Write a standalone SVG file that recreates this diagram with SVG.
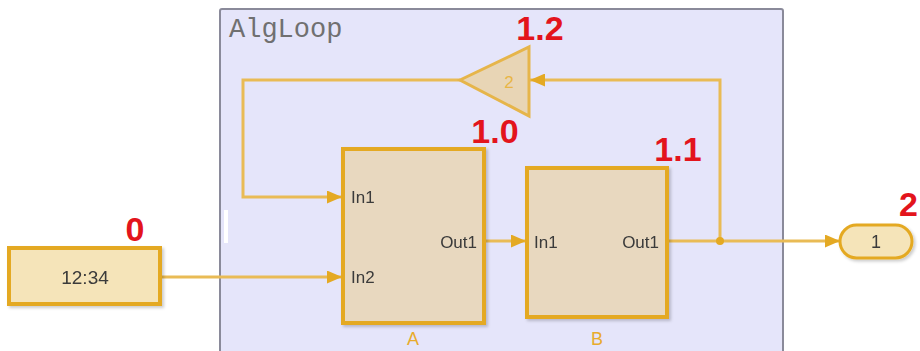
<svg xmlns="http://www.w3.org/2000/svg" width="920" height="351" viewBox="0 0 920 351">
<defs>
<style>
.blk{fill:#e8d8bf;stroke:#e4a923;stroke-width:4}
.wire{fill:none;stroke:#e9bb55;stroke-width:3}
.port{font-family:"Liberation Sans",Arial,sans-serif;font-size:17px;fill:#3a3a3a}
.name{font-family:"Liberation Sans",Arial,sans-serif;font-size:18px;fill:#e8ab2c}
.red{font-family:"Liberation Sans",Arial,sans-serif;font-size:34px;font-weight:bold;fill:#e3141c}
</style>
<marker id="arr" markerWidth="15" markerHeight="13" refX="15" refY="6.5" orient="auto" markerUnits="userSpaceOnUse" viewBox="0 0 15 13">
<path d="M0,0 L15,6.5 L0,13 Z" fill="#e4a923"/>
</marker>
<filter id="sh" x="-10%" y="-10%" width="130%" height="130%">
<feDropShadow dx="2" dy="2" stdDeviation="1.5" flood-color="#000" flood-opacity="0.2"/>
</filter>
</defs>
<rect width="920" height="351" fill="#ffffff"/>
<g id="AlgLoop">
<rect x="220" y="9" width="563" height="360" rx="2" fill="#e5e5fa" stroke="#8a8a9a" stroke-width="2"/>
<text x="229" y="37" font-family="'Liberation Mono','Courier New',monospace" font-size="27" fill="#707070">AlgLoop</text>
<rect x="224" y="210" width="4" height="33" fill="#ffffff"/>
</g>
<g id="connectors">
<path class="wire" d="M160,277 H342" marker-end="url(#arr)"/>
<path class="wire" d="M460,80 H243 V197 H342" marker-end="url(#arr)"/>
<path class="wire" d="M485,241 H526" marker-end="url(#arr)"/>
<path class="wire" d="M667,241 H840" marker-end="url(#arr)"/>
<path class="wire" d="M720,241 V80 H530" marker-end="url(#arr)"/>
<circle cx="720" cy="241" r="4" fill="#e4a923"/>
</g>
<g id="clock" filter="url(#sh)">
<rect x="9" y="248" width="151" height="56" class="blk" style="fill:#f5e4b9"/>
<text x="85" y="284" text-anchor="middle" font-family="'Liberation Sans',Arial,sans-serif" font-size="19" fill="#3a3a3a">12:34</text>
</g>
<g id="A" filter="url(#sh)">
<rect x="343" y="149" width="141" height="174" class="blk"/>
<text class="port" x="351" y="203">In1</text>
<text class="port" x="351" y="283">In2</text>
<text class="port" x="477" y="248" text-anchor="end">Out1</text>
</g>
<text class="name" x="413" y="345" text-anchor="middle">A</text>
<g id="B" filter="url(#sh)">
<rect x="527" y="168" width="140" height="149" class="blk"/>
<text class="port" x="534" y="248">In1</text>
<text class="port" x="659" y="248" text-anchor="end">Out1</text>
</g>
<text class="name" x="597" y="345" text-anchor="middle">B</text>
<g id="gain">
<polygon points="460,80 529,47 529,116" fill="#e8d5b5" stroke="#e6b54a" stroke-width="3"/>
<text x="509" y="88" text-anchor="middle" font-family="'Liberation Sans',Arial,sans-serif" font-size="17" fill="#e8b545">2</text>
</g>
<g id="out1" filter="url(#sh)">
<rect x="840" y="225" width="72" height="33" rx="16.5" class="blk" style="fill:#f5e4b9;stroke-width:3"/>
<text x="876" y="248" text-anchor="middle" font-family="'Liberation Sans',Arial,sans-serif" font-size="18" fill="#3a3a3a">1</text>
</g>
<g id="labels">
<text class="red" x="135" y="241" text-anchor="middle">0</text>
<text class="red" x="540" y="40" text-anchor="middle">1.2</text>
<text class="red" x="495" y="143" text-anchor="middle">1.0</text>
<text class="red" x="678" y="161" text-anchor="middle">1.1</text>
<text class="red" x="899" y="216">2</text>
</g>
</svg>
